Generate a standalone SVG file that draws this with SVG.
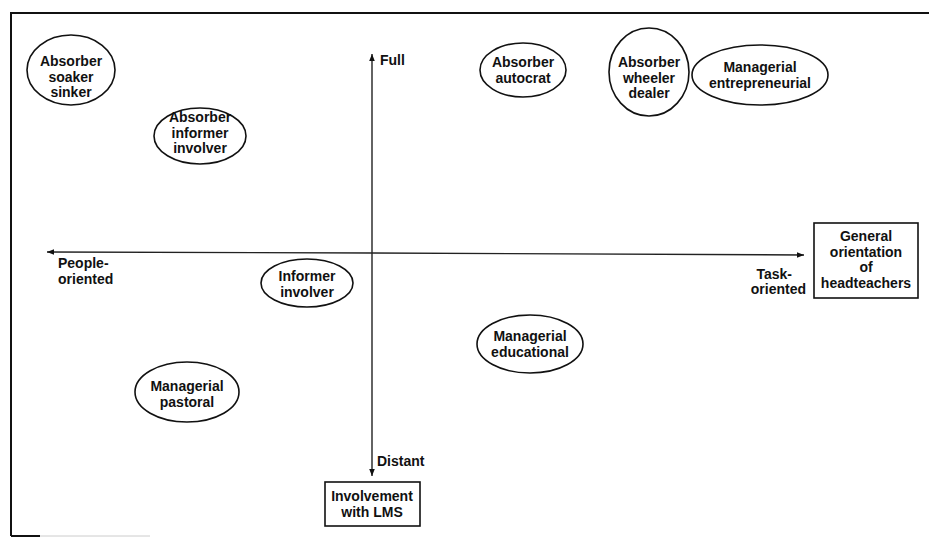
<svg xmlns="http://www.w3.org/2000/svg" width="929" height="537" viewBox="0 0 929 537">
<defs>
<marker id="ah" viewBox="0 0 10 10" refX="10" refY="5" markerWidth="7" markerHeight="7" markerUnits="userSpaceOnUse" orient="auto">
<path d="M0,1 L10,5 L0,9 Z" fill="#111"/>
</marker>
</defs>
<style>
text{font-family:"Liberation Sans",Arial,sans-serif;font-size:14px;font-weight:bold;fill:#111;}
.c{text-anchor:middle;}
ellipse,rect{fill:#fff;stroke:#111;stroke-width:1.6;}
.ax{stroke:#222;stroke-width:1.4;fill:none;}
.fr{stroke:#111;stroke-width:2;fill:none;}
</style>
<g id="frame">
<line class="fr" x1="11" y1="13" x2="929" y2="13"/>
<line class="fr" x1="11" y1="12" x2="11" y2="536"/>
<line class="fr" x1="11" y1="536" x2="40" y2="536"/>
<line x1="40" y1="536" x2="150" y2="536" stroke="#ccc" stroke-width="1"/>
</g>
<g id="connectors">
<line class="ax" x1="372" y1="253" x2="372" y2="54" marker-end="url(#ah)"/>
<line class="ax" x1="372" y1="253" x2="372" y2="476" marker-end="url(#ah)"/>
<line class="ax" x1="372" y1="253" x2="47" y2="252" marker-end="url(#ah)"/>
<line class="ax" x1="372" y1="253" x2="804" y2="255" marker-end="url(#ah)"/>
</g>
<g id="axis-labels">
<text x="380" y="65">Full</text>
<text x="377" y="466">Distant</text>
<text x="58" y="268">People-</text>
<text x="58" y="284">oriented</text>
<text x="792" y="279" text-anchor="end">Task-</text>
<text x="806" y="294" text-anchor="end">oriented</text>
</g>
<g id="absorber-soaker-sinker">
<ellipse cx="71" cy="70" rx="44" ry="35"/>
<text class="c" x="71" y="66">Absorber</text>
<text class="c" x="71" y="82">soaker</text>
<text class="c" x="71" y="97">sinker</text>
</g>
<g id="absorber-informer-involver">
<ellipse cx="200" cy="136" rx="46" ry="28"/>
<text class="c" x="200" y="122">Absorber</text>
<text class="c" x="200" y="138">informer</text>
<text class="c" x="200" y="153">involver</text>
</g>
<g id="absorber-autocrat">
<ellipse cx="523" cy="70" rx="43" ry="27"/>
<text class="c" x="523" y="67">Absorber</text>
<text class="c" x="523" y="83">autocrat</text>
</g>
<g id="absorber-wheeler-dealer">
<ellipse cx="649" cy="72" rx="40" ry="44"/>
<text class="c" x="649" y="67">Absorber</text>
<text class="c" x="649" y="83">wheeler</text>
<text class="c" x="649" y="98">dealer</text>
</g>
<g id="managerial-entrepreneurial">
<ellipse cx="760" cy="75" rx="68" ry="30"/>
<text class="c" x="760" y="72">Managerial</text>
<text class="c" x="760" y="88">entrepreneurial</text>
</g>
<g id="informer-involver">
<ellipse cx="307" cy="283" rx="46" ry="24"/>
<text class="c" x="307" y="281">Informer</text>
<text class="c" x="307" y="297">involver</text>
</g>
<g id="managerial-educational">
<ellipse cx="530" cy="344" rx="53" ry="29"/>
<text class="c" x="530" y="341">Managerial</text>
<text class="c" x="530" y="357">educational</text>
</g>
<g id="managerial-pastoral">
<ellipse cx="187" cy="392" rx="52" ry="30"/>
<text class="c" x="187" y="391">Managerial</text>
<text class="c" x="187" y="407">pastoral</text>
</g>
<g id="general-orientation">
<rect x="814" y="223" width="104" height="75"/>
<text class="c" x="866" y="241">General</text>
<text class="c" x="866" y="257">orientation</text>
<text class="c" x="866" y="272">of</text>
<text class="c" x="866" y="288">headteachers</text>
</g>
<g id="involvement-lms">
<rect x="325" y="482" width="95" height="44"/>
<text class="c" x="372" y="501">Involvement</text>
<text class="c" x="372" y="517">with LMS</text>
</g>
</svg>
